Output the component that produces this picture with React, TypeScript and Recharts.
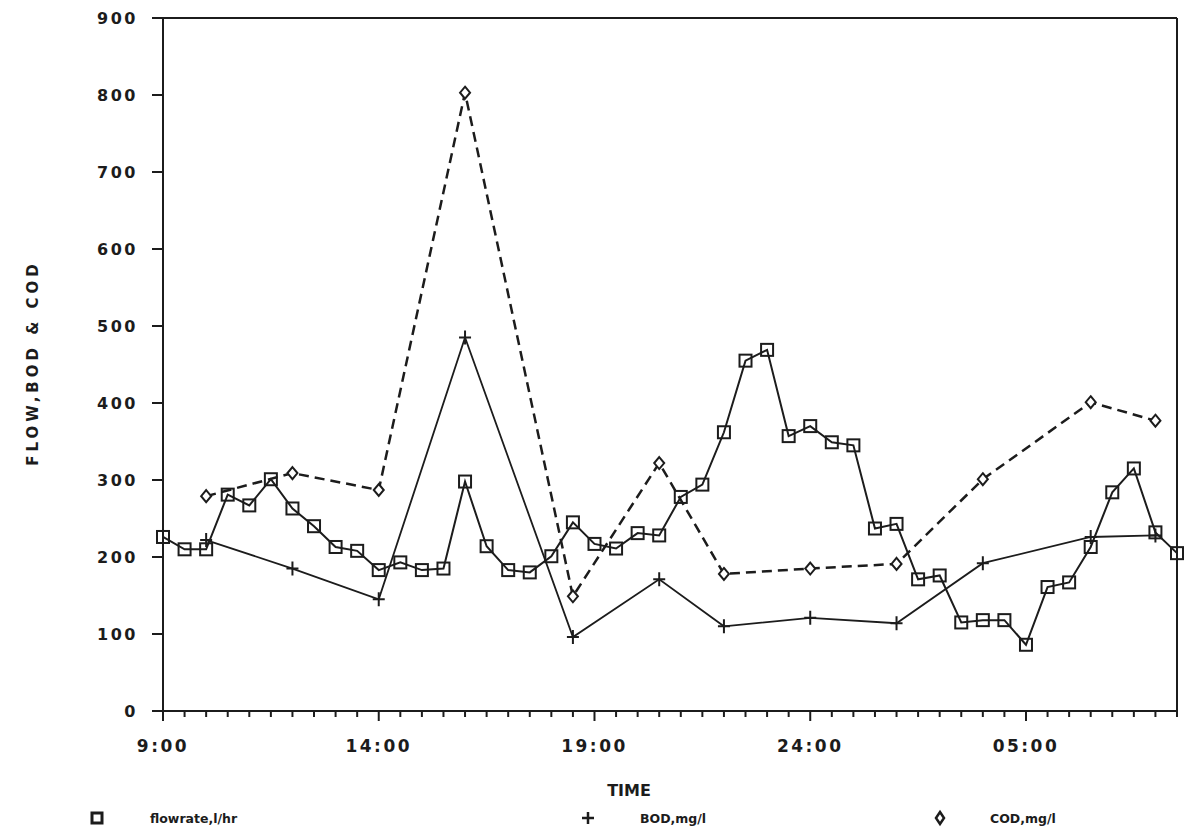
import React from 'react';
import { LineChart, Line, XAxis, YAxis, ReferenceLine } from 'recharts';

// flow sampled every half hour, 9:00 -> 08:30 next day (hours counted past midnight as 24+)
const flowTimes = [
  9, 9.5, 10, 10.5, 11, 11.5, 12, 12.5, 13, 13.5, 14, 14.5, 15, 15.5, 16, 16.5,
  17, 17.5, 18, 18.5, 19, 19.5, 20, 20.5, 21, 21.5, 22, 22.5, 23, 23.5, 24, 24.5,
  25, 25.5, 26, 26.5, 27, 27.5, 28, 28.5, 29, 29.5, 30, 30.5, 31, 31.5, 32, 32.5,
];
const flowValues = [
  226, 210, 210, 281, 267, 301, 263, 240, 213, 208, 183, 193, 183, 185, 298, 214,
  183, 180, 201, 245, 217, 211, 231, 228, 278, 294, 362, 455, 469, 357, 370, 349,
  345, 237, 243, 171, 176, 115, 118, 118, 86, 161, 167, 213, 284, 315, 232, 205,
];

// BOD / COD grab samples
const sampleTimes = [10, 12, 14, 16, 18.5, 20.5, 22, 24, 26, 28, 30.5, 32];
const bodValues = [222, 185, 145, 485, 96, 171, 110, 121, 114, 192, 226, 228];
const codValues = [279, 309, 287, 803, 149, 322, 178, 185, 191, 301, 401, 377];

const timeTicks = [
  9, 9.5, 10, 10.5, 11, 11.5, 12, 12.5, 13, 13.5, 14, 14.5, 15, 15.5, 16, 16.5,
  17, 17.5, 18, 18.5, 19, 19.5, 20, 20.5, 21, 21.5, 22, 22.5, 23, 23.5, 24, 24.5,
  25, 25.5, 26, 26.5, 27, 27.5, 28, 28.5, 29, 29.5, 30, 30.5, 31, 31.5, 32, 32.5,
];
const majorTicks = [9, 14, 19, 24, 29];
const majorLabels = ['9:00', '14:00', '19:00', '24:00', '05:00'];
const yTicks = [0, 100, 200, 300, 400, 500, 600, 700, 800, 900];

const flowData = flowTimes.map((t, i) => ({ t, flow: flowValues[i] }));
const sampleData = sampleTimes.map((t, i) => ({ t, bod: bodValues[i], cod: codValues[i] }));

const INK = '#1c1c1c';
const FONT = '"DejaVu Sans", sans-serif';

const TimeTick = (props: any) => {
  const { x, y, payload } = props;
  const i = majorTicks.indexOf(payload.value);
  return (
    <g>
      <line x1={x} y1={y} x2={x} y2={y + (i >= 0 ? 10 : 6)} stroke={INK} strokeWidth={2} />
      {i >= 0 && (
        <text x={x} y={y + 41} textAnchor="middle" fill={INK} fontFamily={FONT} fontWeight="bold" fontSize={17} letterSpacing={2.5}>
          {majorLabels[i]}
        </text>
      )}
    </g>
  );
};

const squareDot = (p: any) => (
  <rect key={`sq-${p.index}`} x={p.cx - 6} y={p.cy - 6} width={12} height={12} fill="none" stroke={INK} strokeWidth={2} />
);
const plusDot = (p: any) => (
  <path key={`pl-${p.index}`} d={`M${p.cx - 6},${p.cy}H${p.cx + 6}M${p.cx},${p.cy - 7}V${p.cy + 7}`} stroke={INK} strokeWidth={2} />
);
const diamondDot = (p: any) => (
  <path key={`di-${p.index}`} d={`M${p.cx},${p.cy - 6}L${p.cx + 5},${p.cy}L${p.cx},${p.cy + 6}L${p.cx - 5},${p.cy}Z`} fill="#fff" stroke={INK} strokeWidth={2} />
);

export default function App() {
  return (
    <div style={{ position: 'absolute', left: 0, top: 0, width: 1191, height: 834, background: '#fff' }}>
      <LineChart width={1191} height={834} margin={{ top: 18, right: 14, left: 0, bottom: 33 }}>
        <XAxis
          dataKey="t"
          type="number"
          domain={[9, 32.5]}
          ticks={timeTicks}
          interval={0}
          tickSize={0}
          tickMargin={0}
          tick={<TimeTick />}
          height={90}
          axisLine={{ stroke: INK, strokeWidth: 2 }}
          allowDuplicatedCategory={false}
          label={{ value: 'TIME', position: 'insideBottom', offset: 5, dx: -41, fill: INK, fontFamily: FONT, fontWeight: 'bold', fontSize: 16 }}
        />
        <YAxis
          type="number"
          domain={[0, 900]}
          ticks={yTicks}
          interval={0}
          width={163}
          tickSize={11}
          tickMargin={14}
          tickLine={{ stroke: INK, strokeWidth: 2 }}
          axisLine={{ stroke: INK, strokeWidth: 2 }}
          tick={{ fill: INK, fontFamily: FONT, fontWeight: 'bold', fontSize: 16, letterSpacing: 2.5 }}
          label={{
            content: () => (
              <text x={38} y={363} transform="rotate(-90 38 363)" textAnchor="middle" fill={INK} fontFamily={FONT} fontWeight="bold" fontSize={15} letterSpacing={4}>
                FLOW,BOD &amp; COD
              </text>
            ),
          }}
        />
        <ReferenceLine y={900} stroke={INK} strokeWidth={2} />
        <ReferenceLine x={32.5} stroke={INK} strokeWidth={2} />
        <Line data={sampleData} dataKey="cod" stroke={INK} strokeWidth={2.5} strokeDasharray="10 6" dot={diamondDot} isAnimationActive={false} />
        <Line data={sampleData} dataKey="bod" stroke={INK} strokeWidth={1.8} dot={plusDot} isAnimationActive={false} />
        <Line data={flowData} dataKey="flow" stroke={INK} strokeWidth={2} dot={squareDot} isAnimationActive={false} />
      </LineChart>
      <svg width={1191} height={40} style={{ position: 'absolute', left: 0, top: 800 }}>
        <g fill={INK} fontFamily={FONT} fontWeight="bold" fontSize={12.5}>
          <rect x={92} y={13} width={10} height={10} fill="none" stroke={INK} strokeWidth={3} />
          <text x={150} y={23}>flowrate,l/hr</text>
          <path d="M582,18H594M588,12V24" stroke={INK} strokeWidth={2.5} />
          <text x={640} y={23}>BOD,mg/l</text>
          <path d="M940,12L944,18L940,24L936,18Z" fill="none" stroke={INK} strokeWidth={2.5} />
          <text x={990} y={23}>COD,mg/l</text>
        </g>
      </svg>
    </div>
  );
}
